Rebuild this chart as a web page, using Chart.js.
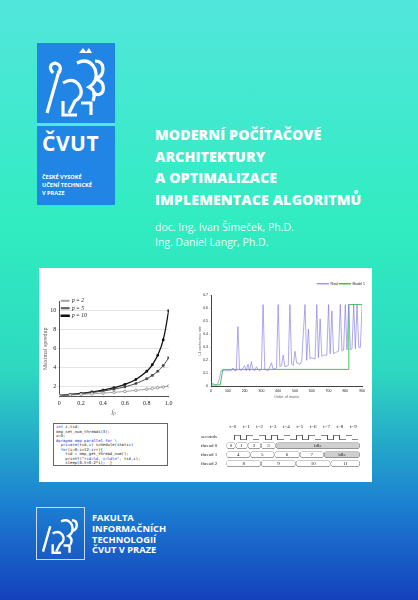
<!DOCTYPE html>
<html lang="cs">
<head>
<meta charset="UTF-8">
<title>Moderní počítačové architektury</title>
<script src="https://cdn.jsdelivr.net/npm/chart.js"></script>
<style>
  body { margin:0; width:418px; height:600px; overflow:hidden; font-family:"Open Sans",sans-serif; }
  #cover { position:relative; width:418px; height:600px;
    background:linear-gradient(180deg,#52e6dc 0%,#30ecc0 38%,#2ed8c0 62%,#1c80d2 84%,#1540bc 100%); }
  .abs { position:absolute; }
  #logo { left:37px; top:43px; width:78px; height:162px; background:#2185e6; }
  #logo .sep { position:absolute; left:0; top:80px; width:78px; height:3px; background:#52e6dc; }
  #logo .big { position:absolute; left:5px; top:86px; color:#fff; font:bold 21px "Open Sans"; letter-spacing:0.5px; }
  #logo .small { position:absolute; left:5px; top:130px; color:#fff; font:bold 5.6px/8px "Open Sans"; }
  #title { left:155px; top:124px; color:#fff; font:800 14.2px/21.5px "Open Sans"; letter-spacing:0.1px; }
  #authors { left:155px; top:220px; color:#fff; font:10.5px/15px "Open Sans"; opacity:0.92; }
  #panel { left:39px; top:268px; width:333px; height:214px; background:#fff; }
  #code { left:53px; top:423px; width:115px; height:43px; border:1px solid #666; font:3.9px/4.5px "DejaVu Sans Mono"; color:#222; padding:1px 2px; box-sizing:border-box; white-space:pre; overflow:hidden; }
  #code .k { color:#2030c0; }
  #bottomlogo { left:36px; top:507px; width:49px; height:53px; border:1px solid #c8d8ff; box-sizing:border-box; }
  #faculty { left:92px; top:513px; color:#fff; font:bold 9.3px/10.8px "Open Sans"; }
  #wave { left:234px; top:435px; width:124px; height:5px;
    background:
      repeating-linear-gradient(90deg,#555 0 6.2px,transparent 6.2px 12.4px) top left / 100% 0.7px no-repeat,
      repeating-linear-gradient(90deg,transparent 0 6.2px,#555 6.2px 12.4px) bottom left / 100% 0.7px no-repeat,
      repeating-linear-gradient(90deg,#555 0 0.6px,transparent 0.6px 6.2px); }
</style>
</head>
<body>
<div id="cover">
  <div id="logo" class="abs">
    <svg width="78" height="80" viewBox="0 0 78 80">
      <g fill="none" stroke="#fff" stroke-width="3.2">
        <path d="M10 70 L22 28"/><path d="M16 30 q-6 -8 2 -10 q8 2 4 10"/>
        <path d="M26 40 q10 -6 16 2 q6 10 -4 16 l-6 12"/><path d="M40 20 q12 -6 18 6 q4 12 -6 18 q8 4 4 14"/>
        <path d="M58 18 q8 0 8 8 q0 8 -8 10 q10 2 8 12 q-3 6 -10 2"/>
        <path d="M26 58 l0 14 l14 0"/><path d="M44 60 l10 0 l0 12"/>
      </g>
      <path d="M42 10 l4 -5 l3 4 l3 -4 l3 5z" fill="#fff"/>
    </svg>
    <div class="sep"></div>
    <div class="big">ČVUT</div>
    <div class="small">ČESKÉ VYSOKÉ<br>UČENÍ TECHNICKÉ<br>V PRAZE</div>
  </div>
  <div id="title" class="abs">MODERNÍ POČÍTAČOVÉ<br>ARCHITEKTURY<br>A OPTIMALIZACE<br>IMPLEMENTACE ALGORITMŮ</div>
  <div id="authors" class="abs">doc. Ing. Ivan Šimeček, Ph.D.<br>Ing. Daniel Langr, Ph.D.</div>

  <div id="panel" class="abs"></div>
  <div class="abs" style="left:42px;top:296px;width:132px;height:120px;"><canvas id="speedup"></canvas></div>
  <div class="abs" style="left:198px;top:281px;width:168px;height:118px;"><canvas id="spikes"></canvas></div>

  <div id="code" class="abs"><span class="k">int</span> i,tid;
omp_set_num_threads(3);
x=0;
<span class="k">#pragma omp parallel for \</span>
  <span class="k">private</span>(tid,i) schedule(static)
  <span class="k">for</span>(i=0;i&lt;12;i++){
    tid = omp_get_thread_num();
    printf("<span class="k">tid=%d, i=%d\n</span>", tid,i);
    sleep(0.5+0.2*i);  }</div>

  <div id="wave" class="abs"></div>
  <div class="abs" style="left:200px;top:422px;width:166px;height:50px;"><canvas id="timeline"></canvas></div>

  <div id="bottomlogo" class="abs">
    <svg width="47" height="51" viewBox="0 0 78 80">
      <g fill="none" stroke="#fff" stroke-width="4">
        <path d="M10 70 L22 28"/><path d="M26 40 q10 -6 16 2 q6 10 -4 16 l-6 12"/>
        <path d="M40 20 q12 -6 18 6 q4 12 -6 18 q8 4 4 14"/><path d="M58 18 q8 0 8 8 q0 8 -8 10"/>
        <path d="M26 58 l0 14 l14 0"/><path d="M44 60 l10 0 l0 12"/>
      </g>
    </svg>
  </div>
  <div id="faculty" class="abs">FAKULTA<br>INFORMAČNÍCH<br>TECHNOLOGIÍ<br>ČVUT V PRAZE</div>
</div>

<script>
// speedup chart data
const fpValues = [0, 0.1, 0.2, 0.3, 0.4, 0.5, 0.6, 0.7, 0.8, 0.85, 0.9, 0.95, 1];
const speedupP2 = [1, 1.05, 1.11, 1.18, 1.25, 1.33, 1.43, 1.54, 1.67, 1.74, 1.82, 1.9, 2];
const speedupP5 = [1, 1.09, 1.19, 1.32, 1.47, 1.67, 1.92, 2.27, 2.78, 3.13, 3.57, 4.17, 5];
const speedupP10 = [1, 1.1, 1.22, 1.37, 1.56, 1.82, 2.17, 2.7, 3.57, 4.26, 5.26, 6.9, 10];
const speedupLabels = ['p = 2', 'p = 5', 'p = 10'];

// real vs model chart data
const realX = [0,10,20,30,40,50,60,70,80,100,120,130,140,150,160,170,180,200,210,220,230,240,250,260,270,280,290,300,310,320,340,360,370,390,400,410,420,430,440,460,470,480,490,500,510,530,540,560,570,580,590,600,620,630,640,650,660,670,690,700,710,720,730,740,760,770,780,790,800,810,820,830,840,850,860,870,880,890,900];
const realY = [0.03,0.02,0.015,0.01,0.02,0.06,0.12,0.12,0.12,0.12,0.12,0.14,0.12,0.12,0.46,0.13,0.12,0.16,0.12,0.17,0.12,0.19,0.13,0.12,0.15,0.13,0.12,0.13,0.63,0.13,0.12,0.18,0.13,0.14,0.63,0.15,0.16,0.24,0.15,0.16,0.63,0.17,0.16,0.27,0.18,0.17,0.19,0.63,0.2,0.44,0.21,0.22,0.21,0.63,0.22,0.52,0.23,0.24,0.24,0.63,0.25,0.58,0.25,0.26,0.27,0.63,0.27,0.28,0.63,0.28,0.63,0.28,0.29,0.63,0.29,0.63,0.3,0.3,0.63];
const modelX = [0, 55, 70, 820, 821, 900];
const modelY = [0.01, 0.01, 0.13, 0.13, 0.63, 0.63];

// timeline data: [start, end, label] in seconds per iteration
const threadNames = ['thread 0', 'thread 1', 'thread 2'];
const threadTasks = [
  [[0,0.7,'0'],[0.7,1.6,'1'],[1.6,2.6,'2'],[2.6,3.7,'3'],[3.7,10,'idle']],
  [[0,1.8,'4'],[1.8,3.6,'5'],[3.6,5.5,'6'],[5.5,7.3,'7'],[7.3,10,'idle']],
  [[0,2.6,'8'],[2.6,5.2,'9'],[5.2,7.8,'10'],[7.8,10,'11']]
];
const timeLabels = ['t=0','t=1','t=2','t=3','t=4','t=5','t=6','t=7','t=8','t=9'];

const serif = 'Liberation Serif';

new Chart(document.getElementById('speedup'), {
  type: 'line',
  data: {
    labels: fpValues,
    datasets: [
      { label: speedupLabels[0], data: speedupP2, borderColor: '#888', pointStyle: 'circle', pointRadius: 1.3, pointBackgroundColor: '#fff', borderWidth: 0.8 },
      { label: speedupLabels[1], data: speedupP5, borderColor: '#444', pointStyle: 'star', pointRadius: 1.5, borderWidth: 1 },
      { label: speedupLabels[2], data: speedupP10, borderColor: '#111', pointStyle: 'circle', pointRadius: 0.8, pointBackgroundColor: '#111', borderWidth: 1.3 }
    ].map(d => Object.assign(d, { tension: 0.4, fill: false }))
  },
  options: {
    responsive: true, maintainAspectRatio: false, animation: false,
    plugins: {
      legend: { position: 'chartArea', align: 'start',
        labels: { font: { family: serif, size: 5.5, style: 'italic' }, boxWidth: 8, boxHeight: 1, padding: 2, color: '#111' } },
      tooltip: { enabled: false }
    },
    scales: {
      x: { type: 'linear', min: 0, max: 1,
        ticks: { stepSize: 0.2, font: { family: serif, size: 6 }, color: '#222', padding: 1 },
        grid: { drawOnChartArea: false, tickLength: 2 }, border: { color: '#555' },
        title: { display: true, text: 'fₚ', font: { family: serif, size: 7, style: 'italic' }, padding: 0 } },
      y: { min: 0.9, max: 11,
        ticks: { stepSize: 2, font: { family: serif, size: 6 }, color: '#222', padding: 1,
          callback: v => (v % 2 === 0 ? v : '') },
        afterBuildTicks: ax => { ax.ticks = [2,4,6,8,10].map(v => ({ value: v })); },
        grid: { color: '#e4e4e4', tickLength: 2 }, border: { color: '#555' },
        title: { display: true, text: 'Maximal speedup', font: { family: serif, size: 6 }, padding: 0 } }
    }
  }
});

new Chart(document.getElementById('spikes'), {
  type: 'line',
  data: {
    datasets: [
      { label: 'Real', data: realX.map((x, i) => ({ x, y: realY[i] })), borderColor: '#7a72e0', borderWidth: 0.6, pointRadius: 0 },
      { label: 'Model 1', data: modelX.map((x, i) => ({ x, y: modelY[i] })), borderColor: '#2fc040', borderWidth: 0.9, pointRadius: 0 }
    ]
  },
  options: {
    responsive: true, maintainAspectRatio: false, animation: false,
    plugins: {
      legend: { position: 'top', align: 'end',
        labels: { font: { size: 3.5 }, boxWidth: 12, boxHeight: 0.5, padding: 1, color: '#222' } },
      tooltip: { enabled: false }
    },
    scales: {
      x: { type: 'linear', min: 0, max: 900,
        ticks: { stepSize: 100, font: { size: 3.5 }, color: '#222', padding: 1, maxRotation: 0 },
        grid: { drawOnChartArea: false, tickLength: 2 }, border: { color: '#444' },
        title: { display: true, text: 'Order of matrix', font: { size: 3.8 }, padding: 0 } },
      y: { min: 0, max: 0.7,
        ticks: { stepSize: 0.1, font: { size: 3.5 }, color: '#222', padding: 1 },
        grid: { drawOnChartArea: false, tickLength: 2 }, border: { color: '#444' },
        title: { display: true, text: 'L1 cache miss rate', font: { size: 3.5 }, padding: 0 } }
    }
  }
});

// floating bars with labels inside
const barLabels = {
  id: 'barLabels',
  afterDatasetsDraw(chart) {
    const ctx = chart.ctx;
    ctx.save();
    ctx.font = '5px "Liberation Serif"';
    ctx.fillStyle = '#222';
    ctx.textAlign = 'center';
    ctx.textBaseline = 'middle';
    chart.data.datasets.forEach((ds, di) => {
      chart.getDatasetMeta(di).data.forEach((bar, i) => {
        if (ds.data[i]) ctx.fillText(ds.names[i], (bar.x + bar.base) / 2, bar.y);
      });
    });
    const xs = chart.scales.x;
    timeLabels.forEach((t, i) => ctx.fillText(t, xs.getPixelForValue(i + 0.5), 5));
    ctx.textAlign = 'left';
    ctx.fillText('seconds', 1, 15);
    ctx.restore();
  }
};
const maxTasks = 5;
const timelineSets = [];
for (let k = 0; k < maxTasks; k++) {
  timelineSets.push({
    data: threadTasks.map(tt => tt[k] ? [tt[k][0], tt[k][1]] : null),
    names: threadTasks.map(tt => tt[k] ? tt[k][2] : ''),
    backgroundColor: threadTasks.map(tt => tt[k] && tt[k][2] === 'idle' ? '#cfcfcf' : '#fff'),
    borderColor: '#555', borderWidth: 0.6, borderRadius: 3, borderSkipped: false,
    barPercentage: 0.75, categoryPercentage: 1, grouped: false
  });
}
new Chart(document.getElementById('timeline'), {
  type: 'bar',
  data: { labels: threadNames, datasets: timelineSets },
  plugins: [barLabels],
  options: {
    indexAxis: 'y', responsive: true, maintainAspectRatio: false, animation: false,
    layout: { padding: { top: 19, right: 6 } },
    plugins: { legend: { display: false }, tooltip: { enabled: false } },
    scales: {
      x: { min: 0, max: 10, display: false },
      y: { ticks: { font: { family: serif, size: 5 }, color: '#222', padding: 1 },
        grid: { display: false }, border: { display: false } }
    }
  }
});
</script>
</body>
</html>
